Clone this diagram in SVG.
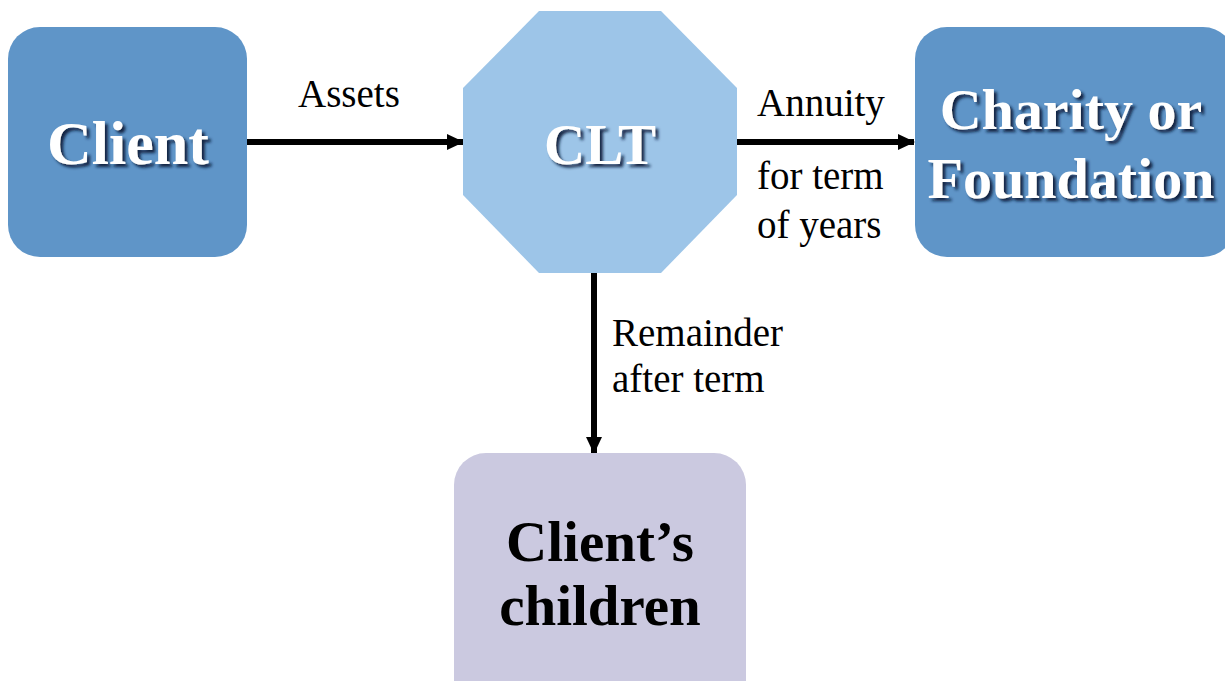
<svg xmlns="http://www.w3.org/2000/svg" width="1225" height="681" viewBox="0 0 1225 681">
<style>
.box{fill:#5f95c8}
.oct{fill:#9dc5e8}
.kid{fill:#cbc9e0}
.title{font-family:"Liberation Serif","Times New Roman",serif;font-weight:bold;text-anchor:middle}
.white{fill:#ffffff;filter:url(#sh)}
.black{fill:#000000}
.lbl{font-family:"Liberation Serif","Times New Roman",serif;font-size:39px;fill:#000}
.conn{stroke:#000;stroke-width:6;fill:none;marker-end:url(#ah)}
</style>
<defs>
<filter id="sh" x="-20%" y="-30%" width="140%" height="160%">
<feDropShadow dx="3" dy="3" stdDeviation="1.8" flood-color="#0a1e3c" flood-opacity="0.95"/>
</filter>
<marker id="ah" markerUnits="userSpaceOnUse" markerWidth="17" markerHeight="16" refX="16" refY="8" orient="auto">
<path d="M0,0 L17,8 L0,16 Z" fill="#000"/>
</marker>
</defs>
<rect width="1225" height="681" fill="#ffffff"/>
<g id="connectors">
<line class="conn" x1="247" y1="142" x2="463" y2="142"/>
<line class="conn" x1="737" y1="142" x2="914" y2="142"/>
<line class="conn" x1="594" y1="273" x2="594" y2="453"/>
<text class="lbl" x="298" y="107">Assets</text>
<text class="lbl" x="757" y="116">Annuity</text>
<text class="lbl" x="757" y="189">for term</text>
<text class="lbl" x="757" y="238">of years</text>
<text class="lbl" x="612" y="346">Remainder</text>
<text class="lbl" x="612" y="392">after term</text>
</g>
<g id="client">
<rect class="box" x="8" y="27" width="239" height="230" rx="32"/>
<text class="title white" x="128" y="164" font-size="62">Client</text>
</g>
<g id="clt">
<polygon class="oct" points="539,11 661,11 737,88 737,195 661,273 539,273 463,195 463,88"/>
<text class="title white" x="600" y="164" font-size="57">CLT</text>
</g>
<g id="charity">
<rect class="box" x="915" y="27" width="320" height="230" rx="32"/>
<text class="title white" x="1071" y="129" font-size="58">Charity or</text>
<text class="title white" x="1071" y="198" font-size="58">Foundation</text>
</g>
<g id="children">
<rect class="kid" x="454" y="453" width="292" height="260" rx="32"/>
<text class="title black" x="600" y="561" font-size="57">Client’s</text>
<text class="title black" x="600" y="625" font-size="57">children</text>
</g>
</svg>
